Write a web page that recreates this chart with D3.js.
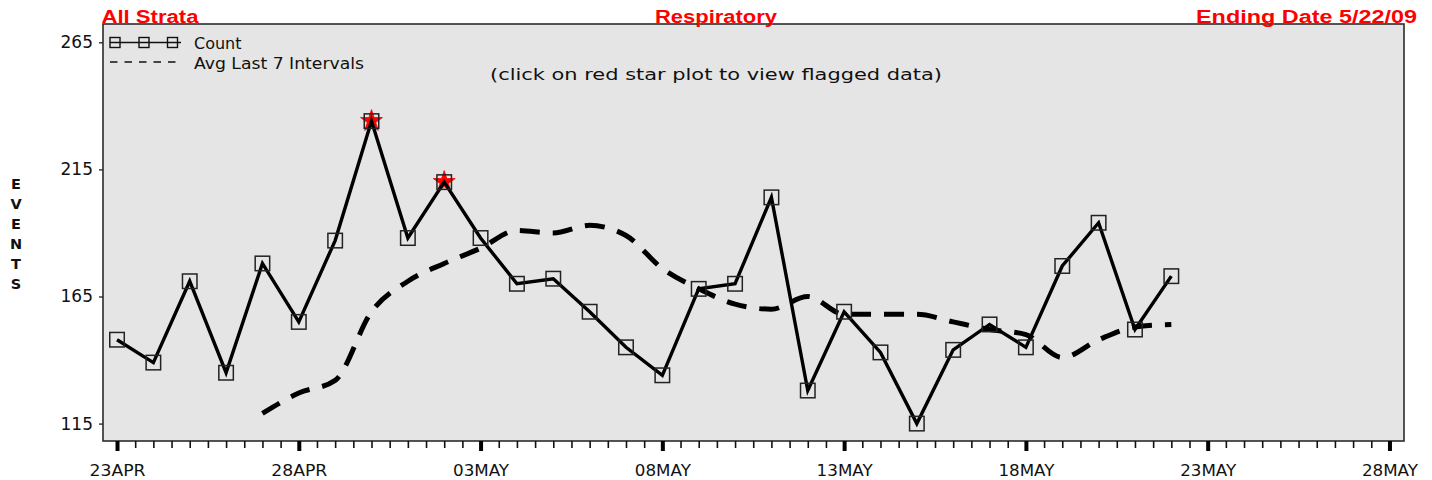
<!DOCTYPE html>
<html>
<head>
<meta charset="utf-8">
<script src="https://cdn.jsdelivr.net/npm/d3@7/dist/d3.min.js"></script>
<style>
  html, body { margin: 0; padding: 0; background: #ffffff; }
  svg { display: block; }
</style>
</head>
<body>
<svg id="chart" width="1432" height="480"></svg>
<script>
// ---------------- DATA ----------------
const dates = [
  "2009-04-23","2009-04-24","2009-04-25","2009-04-26","2009-04-27","2009-04-28","2009-04-29","2009-04-30",
  "2009-05-01","2009-05-02","2009-05-03","2009-05-04","2009-05-05","2009-05-06","2009-05-07","2009-05-08",
  "2009-05-09","2009-05-10","2009-05-11","2009-05-12","2009-05-13","2009-05-14","2009-05-15","2009-05-16",
  "2009-05-17","2009-05-18","2009-05-19","2009-05-20","2009-05-21","2009-05-22"
];
const counts = [148,139,171,135,178,155,187,234,188,210,188,170,172,159,145,134,168,170,204,128,159,143,115,144,154,145,177,194,152,173];
const avgDates = [
  "2009-04-27","2009-04-28","2009-04-29","2009-04-30","2009-05-01","2009-05-02","2009-05-03","2009-05-04",
  "2009-05-05","2009-05-06","2009-05-07","2009-05-08","2009-05-09","2009-05-10","2009-05-11","2009-05-12",
  "2009-05-13","2009-05-14","2009-05-15","2009-05-16","2009-05-17","2009-05-18","2009-05-19","2009-05-20",
  "2009-05-21","2009-05-22"
];
const avgValues = [119,127,132,159,171,178,184,191,190,193,189,176,168,162,160,165,158,158,158,155,152,150,141,148,153,154];
const flaggedDates = ["2009-04-30","2009-05-02"];
const yTickValues = [115,165,215,265];
const xTickDates = ["2009-04-23","2009-04-28","2009-05-03","2009-05-08","2009-05-13","2009-05-18","2009-05-23","2009-05-28"];
const xTickLabels = ["23APR","28APR","03MAY","08MAY","13MAY","18MAY","23MAY","28MAY"];
const titleLeft = "All Strata";
const titleCenter = "Respiratory";
const titleRight = "Ending Date 5/22/09";
const subtitle = "(click on red star plot to view flagged data)";
const yLabel = "EVENTS";
const legendLabels = ["Count", "Avg Last 7 Intervals"];

// ---------------- LAYOUT ----------------
const parse = d3.utcParse("%Y-%m-%d");
const L = 103, R = 1404, T = 24, B = 441;
const hour = 3600 * 1000;

const x = d3.scaleUtc()
  .domain([new Date(parse("2009-04-23").getTime() - 9.25 * hour), new Date(parse("2009-05-28").getTime() + 9.6 * hour)])
  .range([L, R]);
const y = d3.scaleLinear().domain([108.15, 272.2]).range([B, T]);

const svg = d3.select("#chart");
const FONT = "'DejaVu Sans', sans-serif";

// plot background + frame
svg.append("rect")
  .attr("x", x.range()[0]).attr("y", y.range()[1])
  .attr("width", x.range()[1] - x.range()[0]).attr("height", y.range()[0] - y.range()[1])
  .attr("fill", "#e5e5e5").attr("stroke", "#2b2b2b").attr("stroke-width", 1.6);

// titles
const tY = 22.5;
svg.append("text").attr("x", 101.5).attr("y", tY).text(titleLeft)
  .attr("font-family", "'Liberation Sans', Arial, sans-serif").attr("font-weight", "bold").attr("font-size", 18)
  .attr("fill", "#ff0000").attr("textLength", 97).attr("lengthAdjust", "spacingAndGlyphs");
svg.append("text").attr("x", 655).attr("y", tY).text(titleCenter)
  .attr("font-family", "'Liberation Sans', Arial, sans-serif").attr("font-weight", "bold").attr("font-size", 18)
  .attr("fill", "#ff0000").attr("textLength", 122).attr("lengthAdjust", "spacingAndGlyphs");
svg.append("text").attr("x", 1196).attr("y", tY).text(titleRight)
  .attr("font-family", "'Liberation Sans', Arial, sans-serif").attr("font-weight", "bold").attr("font-size", 18)
  .attr("fill", "#ff0000").attr("textLength", 221).attr("lengthAdjust", "spacingAndGlyphs");

// subtitle
svg.append("text").attr("x", 490).attr("y", 80).text(subtitle)
  .attr("font-family", FONT).attr("font-size", 16).attr("fill", "#111")
  .attr("textLength", 452).attr("lengthAdjust", "spacingAndGlyphs");

// y label (stacked letters)
const yl = svg.append("text").attr("font-family", FONT).attr("font-weight", "bold")
  .attr("font-size", 14.5).attr("fill", "#111").attr("text-anchor", "middle");
yLabel.split("").forEach((ch, i) => {
  yl.append("tspan").attr("x", 16).attr("y", 189 + i * 20).text(ch);
});

// y axis
const yAxis = svg.append("g").attr("transform", `translate(${L},0)`)
  .call(d3.axisLeft(y).tickValues(yTickValues).tickSize(4).tickPadding(6).tickFormat(d3.format("d")));
yAxis.select(".domain").remove();
yAxis.selectAll(".tick line").attr("stroke", "#222").attr("stroke-width", 1.3);
yAxis.selectAll(".tick text").attr("font-family", FONT).attr("font-size", 17).attr("fill", "#111");

// x axis minor ticks (every 12 hours)
const minor = svg.append("g").attr("transform", `translate(0,${B})`)
  .call(d3.axisBottom(x).ticks(d3.utcHour.every(12)).tickSize(7).tickFormat(""));
minor.select(".domain").remove();
minor.selectAll(".tick line").attr("stroke", "#111").attr("stroke-width", 1.6);

// x axis major ticks
const majorDates = xTickDates.map(parse);
const major = svg.append("g").attr("transform", `translate(0,${B})`)
  .call(d3.axisBottom(x).tickValues(majorDates).tickSize(10).tickPadding(14)
    .tickFormat((d, i) => xTickLabels[i]));
major.select(".domain").remove();
major.selectAll(".tick line").attr("stroke", "#000").attr("stroke-width", 4);
major.selectAll(".tick text").attr("font-family", FONT).attr("font-size", 16).attr("fill", "#111")
  .attr("textLength", 56).attr("lengthAdjust", "spacingAndGlyphs");

const plot = svg.append("g");

// avg line (dashed, smooth)
const avgData = avgDates.map((d, i) => ({ date: parse(d), value: avgValues[i] }));
plot.append("path").datum(avgData)
  .attr("d", d3.line().x(d => x(d.date)).y(d => y(d.value)).curve(d3.curveMonotoneX))
  .attr("fill", "none").attr("stroke", "#000").attr("stroke-width", 5)
  .attr("stroke-dasharray", "20,13");

// count data
const countData = dates.map((d, i) => ({ date: parse(d), value: counts[i], flagged: flaggedDates.includes(d) }));

// red stars for flagged
plot.selectAll(".star").data(countData.filter(d => d.flagged)).join("path")
  .attr("class", "star")
  .attr("transform", d => `translate(${x(d.date)},${y(d.value)})`)
  .attr("d", d3.symbol(d3.symbolStar, 150))
  .attr("fill", "#ff0000").attr("stroke", "#ff0000").attr("stroke-width", 0.8);

// count line
plot.append("path").datum(countData)
  .attr("d", d3.line().x(d => x(d.date)).y(d => y(d.value)))
  .attr("fill", "none").attr("stroke", "#000").attr("stroke-width", 3.4).attr("stroke-linejoin", "miter");

// squares
const sq = 14.5;
plot.selectAll(".sq").data(countData).join("rect")
  .attr("class", "sq")
  .attr("x", d => x(d.date) - sq / 2).attr("y", d => y(d.value) - sq / 2)
  .attr("width", sq).attr("height", sq)
  .attr("fill", "none").attr("stroke", "#222").attr("stroke-width", 1.5);

// legend
const lg = svg.append("g");
lg.append("line").attr("x1", 110).attr("x2", 181).attr("y1", 42.5).attr("y2", 42.5)
  .attr("stroke", "#111").attr("stroke-width", 1.5);
[115, 144, 172.5].forEach(cx => {
  lg.append("rect").attr("x", cx - 5).attr("y", 42.5 - 5).attr("width", 10).attr("height", 10)
    .attr("fill", "none").attr("stroke", "#111").attr("stroke-width", 1.4);
});
lg.append("line").attr("x1", 110).attr("x2", 181).attr("y1", 62).attr("y2", 62)
  .attr("stroke", "#111").attr("stroke-width", 1.4).attr("stroke-dasharray", "7.5,7");
lg.append("text").attr("x", 194).attr("y", 49).text(legendLabels[0])
  .attr("font-family", FONT).attr("font-size", 16).attr("fill", "#111");
lg.append("text").attr("x", 194).attr("y", 68.5).text(legendLabels[1])
  .attr("font-family", FONT).attr("font-size", 16).attr("fill", "#111")
  .attr("textLength", 170).attr("lengthAdjust", "spacingAndGlyphs");
</script>
</body>
</html>
